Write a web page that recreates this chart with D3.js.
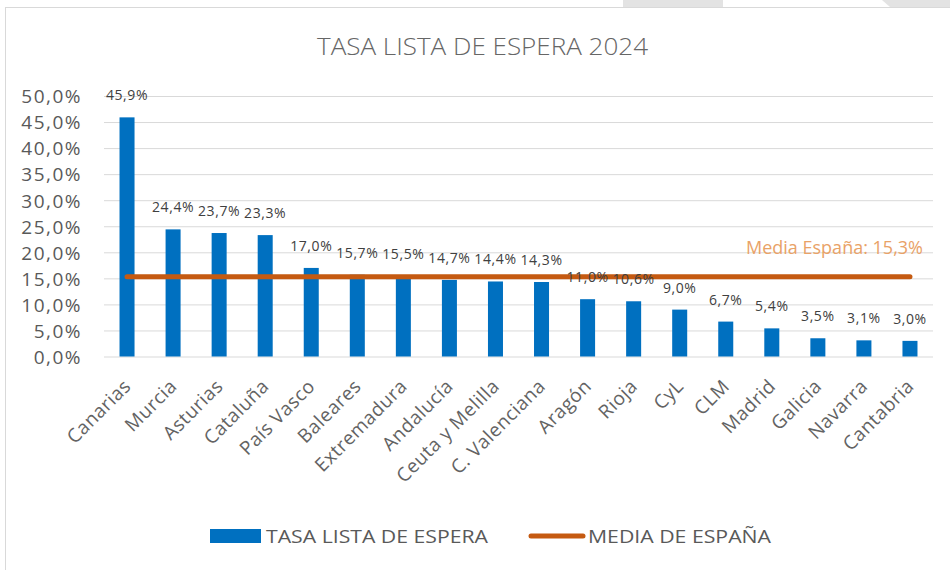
<!DOCTYPE html>
<html>
<head>
<meta charset="utf-8">
<script src="https://cdn.jsdelivr.net/npm/d3@7"></script>
<style>
    body { margin: 0; background: #fff; }
    text { font-family: "Open Sans", "DejaVu Sans", sans-serif; fill: #595959; }
</style>
</head>
<body>
<div id="chart"></div>
<script>
// categories and values
const regions = ["Canarias", "Murcia", "Asturias", "Cataluña", "País Vasco", "Baleares",
    "Extremadura", "Andalucía", "Ceuta y Melilla", "C. Valenciana", "Aragón", "Rioja",
    "CyL", "CLM", "Madrid", "Galicia", "Navarra", "Cantabria"];
const rates = [45.9, 24.4, 23.7, 23.3, 17.0, 15.7, 15.5, 14.7, 14.4, 14.3, 11.0, 10.6,
    9.0, 6.7, 5.4, 3.5, 3.1, 3.0];
const spainMean = 15.3;
const yTicks = [0, 5, 10, 15, 20, 25, 30, 35, 40, 45, 50];
const seriesNames = ["TASA LISTA DE ESPERA", "MEDIA DE ESPAÑA"];

const width = 950, height = 570;
const margin = {top: 96, right: 17, bottom: 213, left: 104};
const blue = "#0070C0", orange = "#C55A11";

let fmt = v => d3.format(".1f")(v).replace(".", ",") + "%";

let svg = d3.select("#chart").append("svg")
    .attr("width", width)
    .attr("height", height);

// frame of the chart area and the bits of screenshot above it
svg.append("rect").attr("x", 623).attr("y", 0).attr("width", 100).attr("height", 7).attr("fill", "#e3e3e3");
svg.append("path").attr("d", "M882,0 L950,0 L950,7 L890,7 Z").attr("fill", "#e3e3e3");
svg.append("rect")
    .attr("x", 5.5).attr("y", 7.5)
    .attr("width", 960).attr("height", 600)
    .attr("fill", "none").attr("stroke", "#d9d9d9");

let x = d3.scaleBand()
    .domain(regions)
    .range([margin.left, width - margin.right])
    .paddingInner(0.674)
    .paddingOuter(0.337);

let y = d3.scaleLinear()
    .domain([0, 50])
    .range([height - margin.bottom - 0.5, margin.top]);

// title
svg.append("text")
    .attr("x", 317).attr("y", 55)
    .attr("textLength", 331).attr("lengthAdjust", "spacingAndGlyphs")
    .style("font-size", "24px")
    .style("font-weight", 300)
    .style("fill", "#666")
    .text("TASA LISTA DE ESPERA 2024");

// gridlines + y labels
let yAxis = d3.axisLeft(y)
    .tickValues(yTicks)
    .tickSize(-(width - margin.left - margin.right))
    .tickPadding(22)
    .tickFormat(fmt);

let yG = svg.append("g")
    .attr("transform", "translate(" + margin.left + ",0)")
    .call(yAxis);
yG.select(".domain").remove();
yG.selectAll("line").attr("stroke", "#d9d9d9");
yG.selectAll("text")
    .style("font-size", "19px")
    .style("letter-spacing", "1.5px")
    .attr("dy", "0.36em");

// bars
svg.selectAll(".bar")
    .data(rates)
    .enter().append("rect")
    .attr("class", "bar")
    .attr("x", (d, i) => x(regions[i]))
    .attr("y", d => y(d))
    .attr("width", x.bandwidth())
    .attr("height", d => y(0) - y(d))
    .attr("fill", blue);

// mean line
let c0 = x(regions[0]) + x.bandwidth() / 2;
let c1 = x(regions[regions.length - 1]) + x.bandwidth() / 2;
svg.append("line")
    .attr("x1", c0).attr("x2", c1)
    .attr("y1", y(spainMean)).attr("y2", y(spainMean))
    .attr("stroke", orange)
    .attr("stroke-width", 5)
    .attr("stroke-linecap", "round");

svg.append("text")
    .attr("x", 923).attr("y", y(spainMean) - 23)
    .attr("text-anchor", "end")
    .style("font-size", "18px")
    .style("fill", "#E9A267")
    .text("Media España: " + fmt(spainMean));

// data labels
svg.selectAll(".lbl")
    .data(rates)
    .enter().append("text")
    .attr("class", "lbl")
    .attr("x", (d, i) => x(regions[i]) + x.bandwidth() / 2)
    .attr("y", d => y(d) - 17)
    .attr("text-anchor", "middle")
    .style("font-size", "14px")
    .style("letter-spacing", "0.6px")
    .style("fill", "#404040")
    .text(d => fmt(d));

// x labels, rotated
let xAxis = d3.axisBottom(x).tickSize(0).tickPadding(0);
let xG = svg.append("g")
    .attr("transform", "translate(0," + y(0) + ")")
    .call(xAxis);
xG.select(".domain").remove();
xG.selectAll("text")
    .attr("text-anchor", "end")
    .attr("transform", "translate(5,31) rotate(-45)")
    .attr("dy", 0)
    .attr("y", 0)
    .style("font-size", "19px")
    .style("letter-spacing", "0.5px")
    .style("fill", "#636363");

// legend
let leg = svg.append("g");
leg.append("rect")
    .attr("x", 210).attr("y", 529)
    .attr("width", 51).attr("height", 14)
    .attr("fill", blue);
leg.append("text")
    .attr("x", 266).attr("y", 543)
    .attr("textLength", 222).attr("lengthAdjust", "spacingAndGlyphs")
    .style("font-size", "19px")
    .text(seriesNames[0]);
leg.append("line")
    .attr("x1", 531).attr("x2", 583)
    .attr("y1", 536).attr("y2", 536)
    .attr("stroke", orange)
    .attr("stroke-width", 5)
    .attr("stroke-linecap", "round");
leg.append("text")
    .attr("x", 588).attr("y", 543)
    .attr("textLength", 183).attr("lengthAdjust", "spacingAndGlyphs")
    .style("font-size", "19px")
    .text(seriesNames[1]);
</script>
</body>
</html>
